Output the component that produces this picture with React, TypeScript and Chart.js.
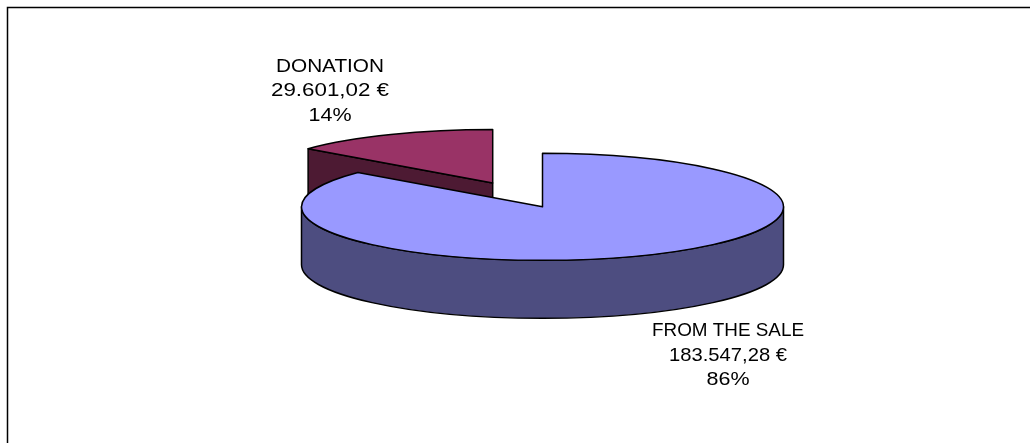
import { useEffect, useRef } from "react";
import { Chart, registerables } from "chart.js";

Chart.register(...registerables);

const categories = ["FROM THE SALE", "DONATION"];
const amounts = [183547.28, 29601.02];
const amountLabels = ["183.547,28 €", "29.601,02 €"];
const percentLabels = ["86%", "14%"];
const topColors = ["#9999FF", "#993366"];
const wallColors = ["#4D4D80", "#4D1A33"];

const CX = 542.5, CY = 206.8, RX = 241, RY = 53.5, DEPTH = 58;

const pie3d = {
  id: "pie3d",
  beforeDraw(chart: any) {
    const c = chart.ctx;
    c.save();
    c.fillStyle = "#fff";
    c.fillRect(0, 0, chart.width, chart.height);
    c.strokeStyle = "#000";
    c.lineWidth = 1.5;
    c.beginPath();
    c.moveTo(7.5, 443);
    c.lineTo(7.5, 7.5);
    c.lineTo(1030, 7.5);
    c.stroke();
    c.restore();
  },
  beforeDatasetsDraw(chart: any) {
    const c = chart.ctx;
    const arcs = chart.getDatasetMeta(0).data;
    const a0 = arcs[0];
    const r = a0.outerRadius;
    const sx = RX / r, sy = RY / r;
    const shift = (a: any) => {
      const mid = (a.startAngle + a.endAngle) / 2;
      const off = (a.options.offset || 0) / 4;
      return [Math.cos(mid) * off, Math.sin(mid) * off];
    };
    const geom = (a: any) => {
      const [ox, oy] = shift(a);
      return { x: CX + ox * sx, y: CY + oy * sy, s: a.startAngle, e: a.endAngle };
    };
    const outline = (a: any) => {
      const g = geom(a);
      c.beginPath();
      c.moveTo(g.x, g.y);
      c.ellipse(g.x, g.y, RX, RY, 0, g.s, g.e);
      c.closePath();
      c.stroke();
    };
    const drawTop = (a: any, i: number) => {
      const saved = a.options;
      const [ox, oy] = shift(a);
      a.options = { ...saved, offset: 0, borderWidth: 0, backgroundColor: topColors[i] };
      c.save();
      c.translate(CX, CY);
      c.scale(sx, sy);
      c.translate(ox - a0.x, oy - a0.y);
      a.draw(c);
      c.restore();
      a.options = saved;
      outline(a);
    };
    c.save();
    c.strokeStyle = "#000";
    c.lineWidth = 1.5;
    c.lineJoin = "round";

    const d = geom(arcs[1]);
    const tipX = d.x + RX * Math.cos(d.s);
    const tipY = d.y + RY * Math.sin(d.s);
    c.beginPath();
    c.moveTo(tipX, tipY);
    c.lineTo(d.x, d.y);
    c.lineTo(d.x, d.y + DEPTH);
    c.lineTo(tipX, tipY + DEPTH);
    c.closePath();
    c.fillStyle = wallColors[1];
    c.fill();
    c.stroke();
    drawTop(arcs[1], 1);

    const m = geom(arcs[0]);
    c.beginPath();
    c.ellipse(m.x, m.y, RX, RY, 0, 0, Math.PI);
    c.lineTo(m.x - RX, m.y + DEPTH);
    c.ellipse(m.x, m.y + DEPTH, RX, RY, 0, Math.PI, 0, true);
    c.closePath();
    c.fillStyle = wallColors[0];
    c.fill();
    c.stroke();
    drawTop(arcs[0], 0);
    c.restore();
    return false;
  },
  afterDraw(chart: any) {
    const c = chart.ctx;
    c.save();
    c.fillStyle = "#000";
    c.font = '19px "Liberation Sans", Arial, sans-serif';
    c.textAlign = "center";
    c.textBaseline = "alphabetic";
    const at = [[728, 336], [330, 71.5]];
    // widths on the page of each label line, in pixels
    const fit = [[152, 118, 43], [108, 118, 43]];
    categories.forEach((name, i) => {
      [name, amountLabels[i], percentLabels[i]].forEach((line, k) => {
        const w = c.measureText(line).width;
        c.save();
        c.translate(at[i][0], at[i][1] + k * 24.5);
        c.scale(fit[i][k] / w, 1);
        c.fillText(line, 0, 0);
        c.restore();
      });
    });
    c.restore();
  },
};

export default function App() {
  const ref = useRef<HTMLCanvasElement>(null);
  useEffect(() => {
    document.body.style.margin = "0";
    const chart = new Chart(ref.current!, {
      type: "pie",
      data: {
        labels: categories,
        datasets: [{ data: amounts, backgroundColor: topColors, borderWidth: 0, offset: [0, 219] }],
      },
      options: {
        responsive: false,
        animation: false,
        plugins: { legend: { display: false }, tooltip: { enabled: false } },
      },
      plugins: [pie3d],
    } as any);
    return () => chart.destroy();
  }, []);
  return <canvas ref={ref} width={1030} height={443} style={{ display: "block" }} />;
}
